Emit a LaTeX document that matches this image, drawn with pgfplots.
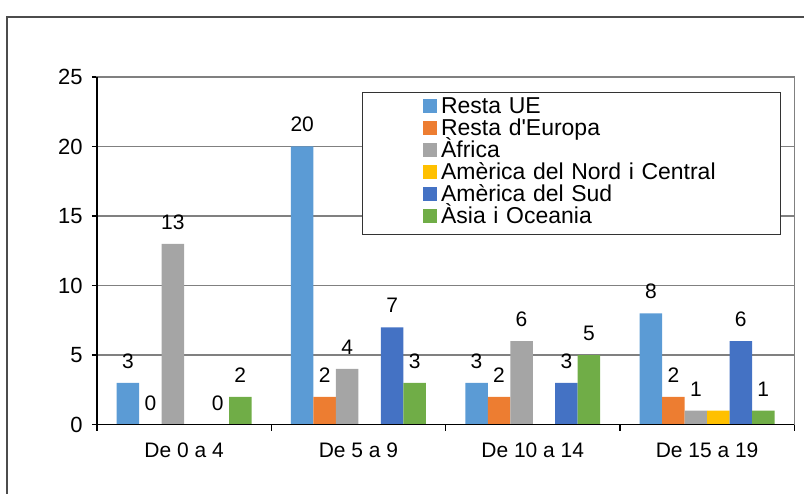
\documentclass[border=0pt]{standalone}
\usepackage{pgfplots}
\pgfplotsset{compat=1.18}
\usepackage{fontspec}
\setmainfont{Liberation Sans}

\definecolor{cUE}{HTML}{5B9BD5}
\definecolor{cEur}{HTML}{ED7D31}
\definecolor{cAfr}{HTML}{A5A5A5}
\definecolor{cAmN}{HTML}{FFC000}
\definecolor{cAmS}{HTML}{4472C4}
\definecolor{cAsia}{HTML}{70AD47}

\begin{document}
\begin{tikzpicture}
\fontsize{10.5}{12}\selectfont
\begin{axis}[
    width=349pt, height=174pt,
    scale only axis,
    ybar=0pt,
    bar width=0.129,
    xmin=-0.5, xmax=3.5,
    ymin=0, ymax=25,
    xtick={0,1,2,3},
    xticklabels={De 0 a 4, De 5 a 9, De 10 a 14, De 15 a 19},
    minor xtick={-0.5,0.5,1.5,2.5,3.5},
    ytick={0,5,10,15,20,25},
    xtick pos=bottom, ytick pos=left,
    tick align=outside,
    major x tick style={draw=none},
    minor x tick style={black, line width=0.6pt},
    minor tick length=3pt,
    major tick length=2.5pt,
    y tick style={black, line width=0.6pt},
    ymajorgrids=true,
    grid style={gray, line width=0.75pt},
    axis line style={gray, line width=0.75pt},
    xticklabel style={font=\fontsize{10.5}{12}\selectfont, yshift=-3pt},
    yticklabel style={font=\fontsize{11}{12}\selectfont, xshift=-1pt},
    /pgf/number format/assume math mode=true,
    nodes near coords,
    every node near coord/.append style={font=\fontsize{10.5}{12}\selectfont,
        anchor=south, inner sep=0pt, yshift=7pt, black},
    every axis plot/.append style={draw=none,
        legend image code/.code={
            \path[draw=none, fill=none] (-30.5pt,0pt) -- (0pt,0pt);
            \fill[##1, draw=none] (0pt,-2.4pt) rectangle (7pt,4.6pt);}},
    legend style={at={(0.3797,0.957)}, anchor=north west,
        draw=black!80, line width=0.5pt, fill=white,
        inner xsep=0pt, inner ysep=2.5pt, column sep=2pt, row sep=0pt,
        nodes={inner sep=0pt, text width=170pt, align=left,
            text height=8pt, text depth=3pt,
            font=\fontsize{11.5}{12}\selectfont}},
]
\addplot[fill=cUE] coordinates {(0,3) (1,20) (2,3) (3,8)};
\addlegendentry{Resta UE}
\addplot[fill=cEur] coordinates {(0,0) (1,2) (2,2) (3,2)};
\addlegendentry{Resta d\textquotesingle Europa}
\addplot[fill=cAfr] coordinates {(0,13) (1,4) (2,6) (3,1)};
\addlegendentry{Àfrica}
\addplot[fill=cAmN, nodes near coords={}] coordinates {(0,0) (1,0) (2,0) (3,1)};
\addlegendentry{Amèrica del Nord i Central}
\addplot[fill=cAmS] coordinates {(0,0) (1,7) (2,3) (3,6)};
\addlegendentry{Amèrica del Sud}
\addplot[fill=cAsia] coordinates {(0,2) (1,3) (2,5) (3,1)};
\addlegendentry{Àsia i Oceania}
\end{axis}
\draw[black, line width=0.75pt] (0pt,174pt) -- (0pt,0pt) -- (349pt,0pt);
\draw[gray!60!black, line width=0.75pt] (-45pt,-34.5pt) -- (-45pt,204pt) -- (354pt,204pt);
\path[use as bounding box] (-48.5pt,-34.5pt) rectangle (354pt,212.5pt);
\end{tikzpicture}
\end{document}
